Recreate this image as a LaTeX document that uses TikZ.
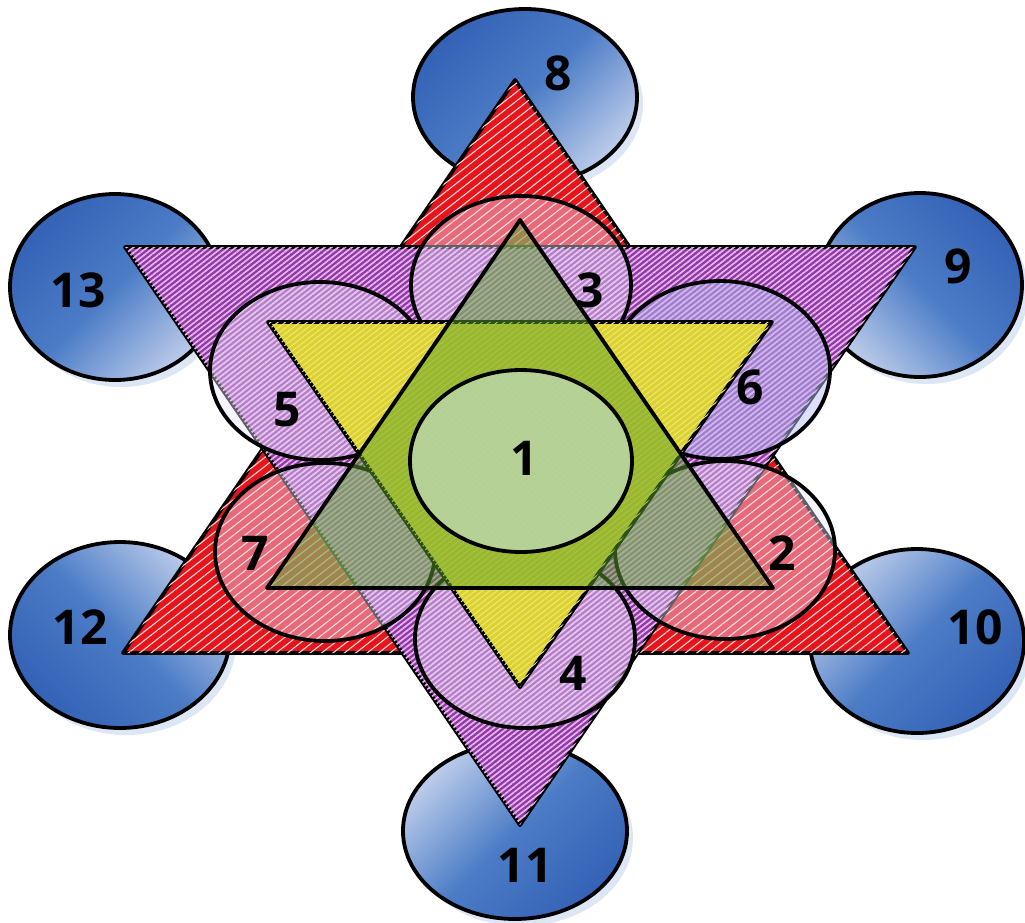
\documentclass[tikz,border=0pt]{standalone}
\usepackage{fontspec}
\setmainfont{Open Sans}
\usetikzlibrary{shapes.geometric,patterns.meta}
\definecolor{bdark}{HTML}{3462B6}
\definecolor{bmid}{HTML}{4C7CC6}
\definecolor{blight}{HTML}{BCCCEA}
\definecolor{bshadow}{HTML}{DCE6F4}
\definecolor{redf}{HTML}{E8141C}
\definecolor{purf}{HTML}{8E3AA6}
\definecolor{purl}{HTML}{EAB4EC}
\definecolor{yelf}{HTML}{DCD22E}
\definecolor{yell}{HTML}{EEE680}
\definecolor{grnf}{HTML}{5AA028}
\definecolor{onef}{HTML}{BCD6AE}
\definecolor{innf}{HTML}{E8E2F8}
\definecolor{innb}{HTML}{B8C0F4}
\begin{document}
\begin{tikzpicture}[x=1pt,y=-1pt,
  outline/.style={draw=black,line width=3.8pt,line join=round},
  blob/.style={ellipse,outline,inner sep=0pt},
  bluecirc/.style n args={3}{blob,minimum width=#1,minimum height=#2,top color=bdark,bottom color=blight,middle color=bmid,shading angle=#3},
  shadowcirc/.style 2 args={ellipse,fill=bshadow,draw=none,minimum width=#1,minimum height=#2},
  inner/.style={blob,minimum width=220pt,minimum height=178pt,fill=innf,fill opacity=0.42},
  lbl/.style={font=\fontsize{48}{48}\selectfont\bfseries,text=black,inner sep=0pt},
  redtri/.style={outline,fill=redf,postaction={pattern={Lines[angle=38,distance=7pt,line width=1.1pt]},pattern color=white!85!red}},
  purtri/.style={outline,fill=purf,postaction={pattern={Lines[angle=38,distance=4.2pt,line width=1.7pt]},pattern color=purl}},
  yeltri/.style={outline,fill=yelf,postaction={pattern={Lines[angle=38,distance=4.5pt,line width=1pt]},pattern color=yell}},
  grntri/.style={outline,fill=grnf,fill opacity=0.5},
]
\useasboundingbox (0,0) rectangle (1025,922);
% shadows of outer circles
\foreach \x/\y/\w/\h in {531/104/224/176, 926/292/204/184, 121/294/210/186, 126/642/220/186, 923/648/214/184, 521/838/224/176}
  \node[shadowcirc={\w pt}{\h pt}] at (\x,\y) {};
% outer blue circles
\node[bluecirc={224pt}{176pt}{45}] (c8) at (525,97) {};
\node[bluecirc={204pt}{184pt}{315}] (c9) at (920,285) {};
\node[bluecirc={210pt}{186pt}{45}] (c13) at (115,287) {};
\node[bluecirc={220pt}{186pt}{135}] (c12) at (120,635) {};
\node[bluecirc={214pt}{184pt}{225}] (c10) at (917,641) {};
\node[bluecirc={224pt}{176pt}{225}] (c11) at (515,831) {};
% red triangle (up)
\coordinate (rA) at (515,80);
\coordinate (rB) at (123,653);
\coordinate (rC) at (908,653);
\draw[redtri] (rA) -- (rB) -- (rC) -- cycle;
% purple triangle (down)
\coordinate (pA) at (125,247);
\coordinate (pB) at (915,247);
\coordinate (pC) at (520,825);
\draw[purtri] (pA) -- (pB) -- (pC) -- cycle;
% inner circles
\node[inner] (c3) at (521,285) {};
\node[inner] (c5) at (320,371) {};
\node[inner,fill=innb,fill opacity=0.5] (c6) at (720,370) {};
\node[inner] (c4) at (525,639) {};
\node[inner] (c7) at (325,552) {};
\node[inner] (c2) at (725,550) {};
% yellow triangle (down)
\coordinate (yA) at (268,322);
\coordinate (yB) at (772,322);
\coordinate (yC) at (520,687);
\draw[yeltri] (yA) -- (yB) -- (yC) -- cycle;
% green triangle (up)
\coordinate (gA) at (520,220);
\coordinate (gB) at (267,588);
\coordinate (gC) at (773,588);
\draw[grntri] (gA) -- (gB) -- (gC) -- cycle;
% central circle
\node[blob,minimum width=222pt,minimum height=182pt,fill=onef,fill opacity=0.8] (c1) at (521,461) {};
% labels
\node[lbl] (l8) at (558,73) {8};
\node[lbl] (l13) at (78,290) {13};
\node[lbl] (l9) at (958,266) {9};
\node[lbl] (l12) at (80,627) {12};
\node[lbl] (l10) at (975,627) {10};
\node[lbl] (l11) at (525,865) {11};
\node[lbl] (l3) at (590,290) {3};
\node[lbl] (l5) at (287,410) {5};
\node[lbl] (l6) at (750,387) {6};
\node[lbl] (l7) at (255,553) {7};
\node[lbl] (l2) at (782,553) {2};
\node[lbl] (l4) at (573,673) {4};
\node[lbl] (l1) at (524,458) {1};
\end{tikzpicture}
\end{document}
